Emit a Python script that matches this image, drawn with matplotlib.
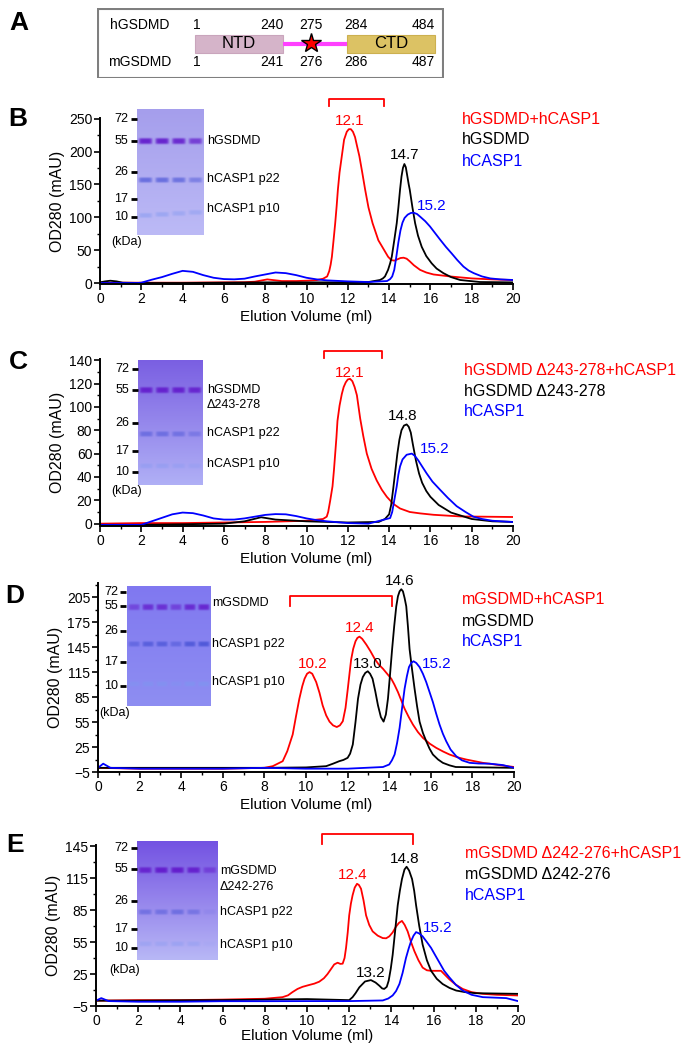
import numpy as np
import matplotlib
matplotlib.use("Agg")
import matplotlib.pyplot as plt
from matplotlib.patches import Rectangle

plt.rcParams['font.family'] = ['Liberation Sans', 'DejaVu Sans']

# ---------------- data ----------------
# panel A: domain boundaries
h_residues = ["1", "240", "275", "284", "484"]
m_residues = ["1", "241", "276", "286", "487"]
domain_names = ["NTD", "CTD"]

# panel B: hGSDMD + hCASP1
b_red_x = [0, 1, 2, 3, 4, 5, 6, 7, 7.5, 8.1, 8.8, 9.5, 10, 10.5, 10.8, 11.0, 11.1, 11.17,
           11.23, 11.31, 11.39, 11.46, 11.52, 11.6, 11.71, 11.82, 11.95, 12.05, 12.15, 12.25,
           12.35, 12.45, 12.56, 12.7, 12.84, 13.0, 13.2, 13.48, 13.65, 13.8, 13.95, 14.1,
           14.25, 14.4, 14.55, 14.7, 14.85, 15.0, 15.2, 15.5, 15.8, 16.15, 16.95, 18, 19, 20]
b_red_y = [0.5, 0.5, 0.5, 0.5, 0.5, 0.8, 1, 1.2, 2, 5.5, 3, 3, 3.5, 4.5, 6.5, 10, 18, 28,
           40, 65, 91, 117, 142, 168, 193, 218, 230, 234, 234, 230,
           222, 208, 193, 168, 142, 115, 91, 65, 56, 48, 40, 35,
           34, 36, 38, 38.5, 37, 33, 27, 20, 16, 13, 10, 7, 5.5, 4.5]
b_blk_x = [0, 0.25, 0.5, 0.8, 1.1, 2, 4, 6, 8, 10, 12, 13, 13.56, 13.7, 13.8, 13.95, 14.05,
           14.13, 14.25, 14.37, 14.45, 14.53, 14.6, 14.67, 14.74, 14.81, 14.88, 14.95, 15.0,
           15.13, 15.26, 15.4, 15.58, 15.8, 16.06, 16.3, 16.63, 17.0, 17.44, 18.4, 20]
b_blk_y = [1, 2.5, 3.5, 2.5, 0.5, 0, 0, 0.5, 1, 1, 1, 1.5, 4.6, 7, 10, 20, 30,
           40, 65, 91, 115, 142, 162, 175, 181, 176, 163, 150, 142,
           115, 91, 72, 55, 41, 30, 22, 15, 9, 4.6, 1.5, 1]
b_blu_x = [0, 1, 1.8, 2, 2.5, 3, 3.5, 4, 4.5, 5, 5.5, 6, 6.5, 7, 7.5, 8, 8.5, 9, 9.5, 10,
           10.5, 11, 12, 13, 13.9, 14.05, 14.15, 14.25, 14.35, 14.45, 14.55, 14.65, 14.75,
           14.9, 15.05, 15.18, 15.35, 15.5, 15.75, 15.98, 16.2, 16.47, 16.75, 17.03, 17.3,
           17.6, 17.85, 18.1, 18.5, 18.9, 19.4, 20]
b_blu_y = [0, 0, 0, 0.5, 5, 9, 14, 18.5, 17, 12, 8, 6, 5.6, 6.6, 10, 13, 16, 15, 12, 8,
           5.5, 4, 2.5, 1.5, 3, 6, 10, 20, 40, 62, 80, 92, 99,
           104, 106.5, 107, 105, 101, 94, 86, 77, 66, 55, 45, 35,
           25, 19, 15, 10, 7, 5.5, 4.6]

# panel C: hGSDMD d243-278 + hCASP1
c_red_x = [0, 2, 4, 6, 8, 10, 10.8, 10.98, 11.05, 11.15, 11.26, 11.33, 11.39, 11.45, 11.5,
           11.6, 11.71, 11.8, 11.9, 12.0, 12.11, 12.22, 12.33, 12.44, 12.52, 12.6, 12.75,
           12.92, 13.15, 13.4, 13.65, 13.89, 14.2, 14.53, 15.0, 15.5, 16.15, 17.44, 20]
c_red_y = [0, 0.5, 0.5, 1, 1.5, 2.5, 4, 6, 10, 20, 32, 46, 60, 74, 88,
           101, 111, 117, 121, 123.5, 124, 122, 117, 110, 100, 90, 75,
           60, 47, 37, 29, 23, 17, 13, 10, 8.8, 7.6, 6.2, 5.7]
c_blk_x = [0, 2, 4, 6, 7, 7.8, 8.5, 10, 12, 13.5, 13.8, 14.0, 14.1, 14.2, 14.3, 14.4, 14.5,
           14.6, 14.72, 14.85, 14.95, 15.05, 15.15, 15.3, 15.45, 15.6, 15.8, 16.0, 16.4,
           17.0, 18.0, 19.0, 20]
c_blk_y = [-1, -1, -0.5, 0, 2, 5.5, 3.5, 2, 1, 1.5, 4, 8, 16, 30, 45, 60, 72,
           80, 84, 85, 83, 78, 68, 54, 43, 35, 28, 23, 16,
           9.5, 4, 2, 1.5]
c_blu_x = [0, 1, 2, 2.5, 3, 3.5, 4, 4.5, 5, 5.5, 6, 6.5, 7, 7.5, 8, 8.5, 9, 9.5, 10, 10.5,
           11, 12, 13, 14.05, 14.15, 14.25, 14.37, 14.45, 14.53, 14.65, 14.85, 15.1, 15.25,
           15.42, 15.6, 15.82, 16.1, 16.47, 16.85, 17.27, 17.7, 18.08, 18.5, 19, 20]
c_blu_y = [-1, -1, -1, 2, 5, 8, 9.5, 9, 7, 4.5, 3.5, 3.5, 4.5, 6, 7.5, 8.2, 8, 6.5, 4.5, 3,
           2, 0.5, 0, 4.8, 10, 20, 32, 42, 49, 55, 59, 60, 58,
           54, 49, 43, 36, 29, 22, 15, 10, 6, 4, 2.5, 1.4]

# panel D: mGSDMD + hCASP1
d_red_x = [0, 2, 4, 6, 8, 8.4, 8.88, 9.1, 9.36, 9.52, 9.68, 9.82, 9.93, 10.05, 10.17, 10.3,
           10.49, 10.65, 10.8, 10.97, 11.13, 11.3, 11.48, 11.63, 11.77, 11.9, 12.01, 12.1,
           12.17, 12.27, 12.38, 12.47, 12.57, 12.7, 12.9, 13.1, 13.3, 13.5, 13.7, 13.9, 14.1,
           14.25, 14.42, 14.58, 14.74, 14.94, 15.14, 15.38, 15.62, 15.95, 16.26, 16.6, 16.9,
           17.3, 17.7, 18.1, 18.5, 19.3, 20]
d_red_y = [0, -1, -1, -1, 0, 2, 8, 20, 40, 62, 83, 98, 107, 113, 115, 113,
           103, 90, 75, 63, 55.5, 51, 49, 51, 56, 72, 95, 115,
           130, 143, 152, 156, 157.6, 155, 148, 140, 131, 124, 119, 113, 107,
           100, 91, 81, 71, 61, 52, 43, 36, 29, 24, 19.5, 16,
           12.5, 10, 8, 6, 3.3, 1]
d_blk_x = [0, 2, 4, 6, 8, 10, 10.97, 11.3, 11.6, 11.8, 12.0, 12.12, 12.25, 12.38, 12.5,
           12.62, 12.73, 12.85, 12.97, 13.08, 13.2, 13.33, 13.46, 13.6, 13.73, 13.84, 13.94,
           14.04, 14.14, 14.24, 14.34, 14.42, 14.5, 14.58, 14.66, 14.74, 14.82, 14.9, 14.98,
           15.1, 15.22, 15.34, 15.46, 15.62, 15.78, 15.94, 16.1, 16.35, 16.58, 16.9, 17.2, 20]
d_blk_y = [0, 0, 0, 0, 0, 0.5, 2, 5, 8, 9.5, 12, 17, 28, 55, 83,
           100, 109, 114, 116, 113, 107, 92, 75, 61, 55.5, 64, 83,
           112, 142.5, 170, 194, 206, 212, 214.5, 212, 204, 194, 170, 142.5,
           118, 95, 74, 55.5, 42, 32, 23, 16, 10, 6, 3, 1, 0]
d_blu_x = [0, 0.25, 0.6, 2, 4, 6, 8, 10, 12, 13.7, 14.0, 14.13, 14.26, 14.38, 14.5, 14.62,
           14.74, 14.85, 14.95, 15.06, 15.17, 15.3, 15.46, 15.62, 15.78, 15.94, 16.1, 16.26,
           16.42, 16.58, 16.74, 16.95, 17.22, 17.5, 17.87, 18.3, 18.83, 19.47, 20]
d_blu_y = [0, 5, 0, -1, -1, -1, 0, -1, -1, 1, 4, 9, 16, 30, 48, 72,
           95, 110, 121, 126, 128, 126, 121, 113, 103, 91, 79, 65,
           52, 41, 32, 22, 14, 9, 6, 5.2, 5, 3.3, 0]

# panel E: mGSDMD d242-276 + hCASP1
e_red_x = [0, 2, 4, 6, 8, 8.84, 9.1, 9.31, 9.55, 9.79, 10.1, 10.35, 10.58, 10.8, 10.97,
           11.15, 11.29, 11.45, 11.58, 11.69, 11.78, 11.85, 11.93, 12.0, 12.08, 12.16, 12.26,
           12.37, 12.46, 12.56, 12.68, 12.8, 12.95, 13.11, 13.35, 13.59, 13.75, 13.9, 14.06,
           14.22, 14.36, 14.5, 14.63, 14.77, 14.93, 15.09, 15.28, 15.48, 15.68, 15.88, 16.1,
           16.35, 16.55, 16.75, 17.05, 17.38, 17.8, 18.33, 19, 20]
e_red_y = [0, 0.5, 0.5, 1, 1.8, 3.3, 5, 8, 11, 13, 14.7, 16, 17.8, 21, 24.9,
           30, 34, 35.6, 34.5, 34.7, 40, 49.5, 64, 80, 91, 98.8, 106,
           109.6, 108.5, 105, 94, 80, 71, 65, 61, 58.7, 58.5, 60.3, 64,
           69.5, 73, 74.8, 71, 65, 55, 46.4, 38, 31, 28.5, 28, 28,
           28, 24, 20, 15, 11, 8, 6.4, 5.5, 4.9]
e_blk_x = [0, 2, 4, 6, 8, 10, 12, 12.16, 12.3, 12.48, 12.75, 13.03, 13.25, 13.43, 13.56,
           13.66, 13.78, 13.87, 13.97, 14.06, 14.18, 14.3, 14.4, 14.5, 14.62, 14.72, 14.84,
           14.98, 15.08, 15.17, 15.32, 15.48, 15.68, 15.88, 16.15, 16.43, 16.75, 17.07, 17.5,
           18.0, 20]
e_blk_y = [0, 0, 0.3, 0.5, 1, 1.5, 0.5, 3.3, 7, 12.5, 18, 19.3, 17, 14, 11.5,
           11, 13, 18.7, 30, 43, 66, 89.5, 103, 114, 123, 125.6, 122,
           114, 103, 89.5, 70, 52.6, 38, 28, 20.5, 15.6, 12, 9.5, 8,
           7, 6.4]
e_blu_x = [0, 0.25, 0.6, 2, 4, 6, 8, 10, 12, 13.59, 13.85, 14.06, 14.22, 14.38, 14.53,
           14.69, 14.82, 14.93, 15.05, 15.17, 15.32, 15.48, 15.68, 15.88, 16.08, 16.28, 16.5,
           16.75, 17.05, 17.38, 17.8, 18.33, 19.44, 20]
e_blu_y = [0, 2.4, -0.4, -1, -1, -0.5, -0.5, -0.4, -0.4, 0.2, 2, 4.9, 9, 15.6, 26,
           40, 49, 55.7, 61, 64.3, 63, 60.3, 55, 49.5, 42.5, 35.6, 28,
           21.8, 15, 9.5, 5.5, 3.3, 2.4, -0.4]

# peak labels: (x, y, value, colour)
b_peaks = [(12.1, 246, "12.1", "red"), (14.74, 195, "14.7", "black"), (16.06, 117, "15.2", "blue")]
c_peaks = [(12.1, 129, "12.1", "red"), (14.66, 92.5, "14.8", "black"), (16.2, 64, "15.2", "blue")]
d_peaks = [(10.33, 125, "10.2", "red"), (12.57, 168, "12.4", "red"), (12.97, 125, "13.0", "black"),
           (14.5, 224, "14.6", "black"), (16.26, 125, "15.2", "blue")]
e_peaks = [(12.16, 118, "12.4", "red"), (13.03, 26.4, "13.2", "black"),
           (14.61, 133, "14.8", "black"), (16.2, 68, "15.2", "blue")]

# collected fractions (elution range) and bracket heights
b_bracket = (11.1, 13.74, 269, 280)
c_bracket = (10.85, 13.65, 142, 148)
d_bracket = (9.25, 14.14, 194, 206)
e_bracket = (10.7, 15.0, 146.5, 156)

b_legend = ["hGSDMD+hCASP1", "hGSDMD", "hCASP1"]
c_legend = ["hGSDMD \u0394243-278+hCASP1", "hGSDMD \u0394243-278", "hCASP1"]
d_legend = ["mGSDMD+hCASP1", "mGSDMD", "hCASP1"]
e_legend = ["mGSDMD \u0394242-276+hCASP1", "mGSDMD \u0394242-276", "hCASP1"]

markers = ["72", "55", "26", "17", "10"]

# gel band strengths per lane (55 kDa, p22, p10)
b_gel = [[0.95, 0.95, 0.9, 0.75], [0.7, 0.7, 0.65, 0.5], [0.45, 0.45, 0.4, 0.38]]
c_gel = [[0.95, 0.95, 0.95, 0.9], [0.55, 0.55, 0.5, 0.38], [0.35, 0.35, 0.3, 0.25]]
d_gel = [[0.55, 0.8, 0.8, 0.6, 0.85, 0.9], [0.55, 0.75, 0.75, 0.55, 0.85, 0.9],
         [0.45, 0.55, 0.55, 0.4, 0.65, 0.65]]
e_gel = [[0.9, 1.0, 1.0, 0.95, 0.55], [0.5, 0.5, 0.55, 0.45, 0.12], [0.3, 0.3, 0.35, 0.3, 0.1]]

b_gel_labels = ["hGSDMD", "hCASP1 p22", "hCASP1 p10"]
c_gel_labels = ["hGSDMD", "\u0394243-278", "hCASP1 p22", "hCASP1 p10"]
d_gel_labels = ["mGSDMD", "hCASP1 p22", "hCASP1 p10"]
e_gel_labels = ["mGSDMD", "\u0394242-276", "hCASP1 p22", "hCASP1 p10"]

# ---------------- layout helpers (pixel coordinates, origin top-left) ----------------
W, H = 691, 1050
fig = plt.figure(figsize=(W / 100, H / 100), dpi=100)


def rect(left, top, right, bottom):
    return [left / W, 1 - bottom / H, (right - left) / W, (bottom - top) / H]


def ftext(px, py, s, **kw):
    fig.text(px / W, 1 - py / H, s, **kw)


def chromatogram(box, curves, ylim, yticks, yminor, peaks, bracket, xlabelpad=3):
    ax = fig.add_axes(rect(*box))
    for xs, ys, col in curves:
        ax.plot(xs, ys, color=col, lw=1.3, solid_joinstyle="round")
    ax.set_xlim(0, 20)
    ax.set_ylim(*ylim)
    ax.set_xticks(range(0, 21, 2))
    ax.set_xticks(range(0, 21), minor=True)
    ax.set_yticks(yticks)
    ax.set_yticks(yminor, minor=True)
    for side in ["top", "right"]:
        ax.spines[side].set_visible(False)
    for side in ["left", "bottom"]:
        ax.spines[side].set_linewidth(1.4)
    ax.tick_params(which="major", direction="out", length=4, width=1.2, pad=1.5, labelsize=10)
    ax.tick_params(which="minor", direction="out", length=2.2, width=1.0)
    ax.set_xlabel("Elution Volume (ml)", fontsize=11, labelpad=xlabelpad)
    ax.set_ylabel("OD280 (mAU)", fontsize=11.5, labelpad=3)
    for x, y, s, col in peaks:
        ax.text(x, y, s, color=col, fontsize=11, ha="center", va="center")
    x0, x1, ylo, yhi = bracket
    ax.plot([x0, x0, x1, x1], [ylo, yhi, yhi, ylo], color="red", lw=1.3, clip_on=False)
    return ax


def legend_text(px, py, labels, step):
    for i, (s, col) in enumerate(zip(labels, ["red", "black", "blue"])):
        ftext(px, py + i * step, s, color=col, fontsize=11.5, ha="left", va="center")


def gel(box, strengths, band_y, marker_y, label_y, labels, label_x, kda, bg_top, bg_bot):
    left, top, right, bottom = box
    ax = fig.add_axes(rect(*box))
    ax.axis("off")
    ny, nlanes = int(bottom - top) * 3, len(strengths[0])
    nx = int(right - left) * 3
    yy = np.linspace(top, bottom, ny)[:, None, None]
    xx = np.linspace(left, right, nx)[None, :, None]
    frac = (yy - top) / (bottom - top)
    img = np.array(bg_top) / 255 * (1 - frac) + np.array(bg_bot) / 255 * frac
    img = img * np.ones((1, nx, 1))
    band_cols = [(100, 30, 205), (75, 85, 215), (125, 150, 240)]
    widths = [3.0, 2.6, 2.4]
    lane_w = (right - left) / nlanes
    for k in range(3):
        col = np.array(band_cols[k]) / 255
        y0, y1 = band_y[k] if isinstance(band_y[k], tuple) else (band_y[k], band_y[k])
        for i, s in enumerate(strengths[k]):
            c = left + lane_w * (i + 0.5)
            yc = y0 + (y1 - y0) * (i + 0.5) / nlanes
            h = np.exp(-((xx - c) / (0.4 * lane_w)) ** 6)
            v = np.exp(-((yy - yc) / widths[k]) ** 4)
            a = s * h * v
            img = img * (1 - a) + col * a
    ax.imshow(np.clip(img, 0, 1), extent=(left, right, bottom, top), aspect="auto",
              interpolation="bilinear")
    ax.set_xlim(left, right)
    ax.set_ylim(bottom, top)
    for m, y in zip(markers, marker_y):
        ax.plot([left - 6.5, left - 0.5], [y, y], color="black", lw=2, clip_on=False,
                solid_capstyle="butt")
        ax.text(left - 8.5, y, m, ha="right", va="center", fontsize=9)
    ax.text(kda[0], kda[1], "(kDa)", ha="center", va="center", fontsize=9)
    for s, y in zip(labels, label_y):
        ax.text(label_x, y, s, ha="left", va="center", fontsize=9)


# ---------------- panel A ----------------
axa = fig.add_axes(rect(97, 8, 444, 78))
axa.set_xlim(97, 444)
axa.set_ylim(78, 8)
axa.axis("off")
axa.add_patch(Rectangle((97.5, 8.5), 346, 69, fill=False, ec="#7f7f7f", lw=1.5))
axa.add_patch(Rectangle((195, 35), 88, 18, fc="#d5b4c9", ec="#c9a5bc", lw=0.8))
axa.add_patch(Rectangle((347, 35), 88, 18, fc="#dcc264", ec="#ccb050", lw=0.8))
axa.plot([283, 347], [44, 44], color="#ff40ff", lw=3, solid_capstyle="butt")
axa.plot([311], [42.5], marker="*", ms=15, mfc="red", mec="black", mew=1)
axa.text(239, 44, domain_names[0], ha="center", va="center", fontsize=12)
axa.text(391, 44, domain_names[1], ha="center", va="center", fontsize=12)
axa.text(140, 25, "hGSDMD", ha="center", va="center", fontsize=10)
axa.text(140, 62, "mGSDMD", ha="center", va="center", fontsize=10)
for px, ht, mt in zip([197, 272, 311, 356, 423], h_residues, m_residues):
    axa.text(px, 25, ht, ha="center", va="center", fontsize=10)
    axa.text(px, 62, mt, ha="center", va="center", fontsize=10)

# ---------------- panels B-E ----------------
chromatogram((100, 118, 513, 284),
             [(b_red_x, b_red_y, "red"), (b_blk_x, b_blk_y, "black"), (b_blu_x, b_blu_y, "blue")],
             (-1.5, 251), range(0, 251, 50), range(25, 251, 50), b_peaks, b_bracket)
chromatogram((100, 359, 513, 526),
             [(c_red_x, c_red_y, "red"), (c_blk_x, c_blk_y, "black"), (c_blu_x, c_blu_y, "blue")],
             (-2, 141), range(0, 141, 20), range(10, 141, 20), c_peaks, c_bracket)
chromatogram((98, 583, 514, 772),
             [(d_red_x, d_red_y, "red"), (d_blk_x, d_blk_y, "black"), (d_blu_x, d_blu_y, "blue")],
             (-5, 222), range(-5, 206, 30), range(10, 222, 30), d_peaks, d_bracket)
chromatogram((96, 845, 518, 1006),
             [(e_red_x, e_red_y, "red"), (e_blk_x, e_blk_y, "black"), (e_blu_x, e_blu_y, "blue")],
             (-5, 146), range(-5, 146, 30), range(10, 146, 30), e_peaks, e_bracket, xlabelpad=1)

legend_text(462, 119, b_legend, 21)
legend_text(464, 370, c_legend, 21)
legend_text(462, 600, d_legend, 21)
legend_text(465, 853, e_legend, 21.5)

gel((137, 109, 204, 235), b_gel, [141, 180, (216, 212)], [119, 141, 172, 199, 217],
    [141, 179, 209], b_gel_labels, 207, (127, 242), (165, 158, 236), (188, 186, 246))
gel((138, 360, 203, 485), c_gel, [390, 434, 466], [369, 390, 423, 451, 472],
    [390, 405, 433, 464], c_gel_labels, 207, (127, 491), (122, 95, 226), (176, 176, 246))
gel((127, 586, 211, 706), d_gel, [607, 644, 684], [592, 606, 631, 662, 686],
    [603, 644, 682], d_gel_labels, 212, (115, 713), (128, 120, 240), (142, 142, 242))
gel((137, 841, 218, 960), e_gel, [870, 912, 944], [848, 869, 901, 929, 948],
    [871, 887, 912, 945], e_gel_labels, 220, (125, 970), (115, 82, 226), (184, 184, 246))

for letter, px, py in [("A", 19, 23), ("B", 18, 119), ("C", 18, 362), ("D", 15, 596), ("E", 15, 845)]:
    ftext(px, py, letter, fontsize=19, fontweight="bold", ha="center", va="center")

fig.savefig("out.png", dpi=100)
